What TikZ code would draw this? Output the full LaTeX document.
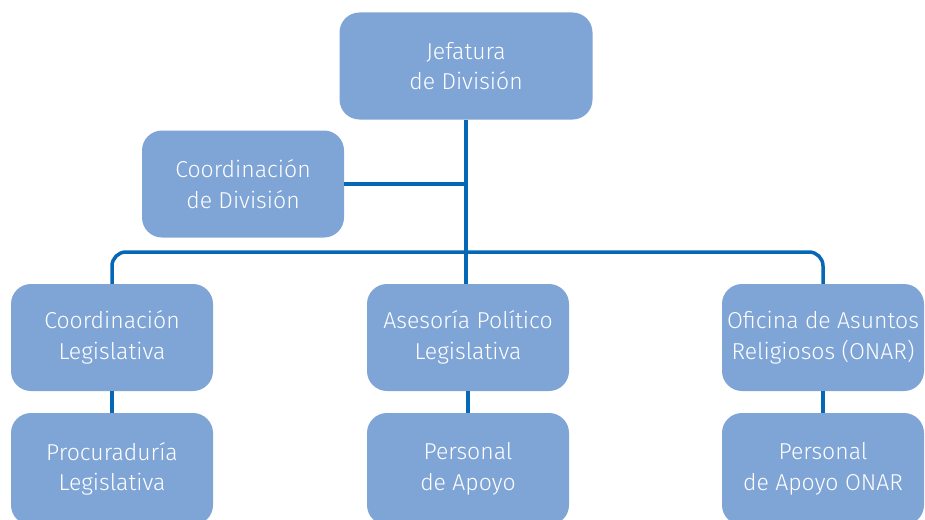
\documentclass[tikz,border=0pt]{standalone}
\usepackage{fontspec}
\setmainfont{Fira Sans Light}
\usepackage{xcolor}
\usepackage{tikz}
\usetikzlibrary{positioning, calc}
\definecolor{boxblue}{RGB}{127,164,214}
\definecolor{lineblue}{RGB}{4,104,182}

\begin{document}
\begin{tikzpicture}[x=1pt, y=-1pt,
    unit/.style={fill=boxblue, draw=none, rounded corners=20pt, minimum width=202pt, minimum height=107pt,
        inner sep=0pt, align=center, text=white, font=\fontsize{23}{30.5}\selectfont},
    link/.style={draw=lineblue, line width=3.5pt}]
    \useasboundingbox (0,0) rectangle (925,519);
    % Top boxes
    \node[unit, minimum width=253pt] (jefatura) at (466,66) {Jefatura\\de División};
    \node[unit] (coorddiv) at (243,184) {Coordinación\\de División};
    % Middle row
    \node[unit] (coordleg) at (112,337.5) {Coordinación\\Legislativa};
    \node[unit] (asesoria) at (468,337.5) {Asesoría Político\\Legislativa};
    \node[unit] (onar) at (823,337.5) {Oficina de Asuntos\\Religiosos (ONAR)};
    % Bottom row
    \node[unit, minimum height=112pt] (procur) at (112,469) {Procuraduría\\Legislativa};
    \node[unit, minimum height=112pt] (apoyo) at (468,469) {Personal\\de Apoyo};
    \node[unit, minimum height=112pt] (apoyoonar) at (823,469) {Personal\\de Apoyo ONAR};
    % Connectors
    \coordinate (bus) at (466,252);
    \draw[link] (jefatura.south) -- (jefatura.south |- asesoria.north);
    \draw[link] (coorddiv.east) -- (coorddiv.east -| jefatura.south);
    \draw[link, rounded corners=14pt] (coordleg.north) |- (bus) -| (onar.north);
    \foreach \a/\b in {coordleg/procur, asesoria/apoyo, onar/apoyoonar} {
        \draw[link] (\a.south) -- (\b.north);
    }
\end{tikzpicture}
\end{document}
